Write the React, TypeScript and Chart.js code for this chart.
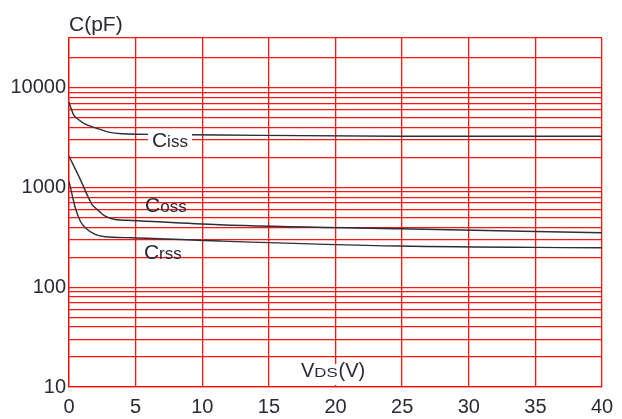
import React, { useEffect, useRef } from 'react';
import { Chart, registerables } from 'chart.js';

Chart.register(...registerables);

// ---- data ----
const vdsTicks = [0, 5, 10, 15, 20, 25, 30, 35, 40];
const capLabelValues = [10, 100, 1000, 10000];
const capGridValues = [
  10, 20, 30, 40, 50, 60, 70, 80, 90,
  100, 200, 300, 400, 500, 600, 700, 800, 900,
  1000, 2000, 3000, 4000, 5000, 6000, 7000, 8000, 9000,
  10000, 20000, 31623,
];

const cissV = [0, 0.1, 0.35, 0.73, 1.22, 1.97, 2.98, 3.98, 7, 11.3, 24.8, 40];
const cissC = [7200, 6550, 5370, 4790, 4330, 3980, 3600, 3470, 3410, 3365, 3270, 3270];

const cossV = [0, 0.82, 1.73, 1.97, 2.33, 2.72, 3.47, 4.73, 11.3, 24.8, 40];
const cossC = [2060, 1230, 676, 627, 567, 517, 479, 468, 424, 386, 352];

const crssV = [0, 0.23, 0.47, 0.85, 1.22, 1.97, 2.72, 4.73, 11.3, 24.8, 40];
const crssC = [1150, 851, 627, 460, 395, 339, 321, 314, 291, 259, 249];

const curveNames = ['Ciss', 'Coss', 'Crss'];
// label anchors (V, pF) — left edge / baseline of each label
const labelAnchorV = [6.3, 5.78, 5.7];
const labelAnchorC = [2553, 569, 192];
const axisTitleV = 17.48;
const axisTitleC = 12.6;

const FONT = '"Liberation Sans", Arial, sans-serif';
const TEXT = '#2a2a35';
const GRID = 'rgba(255,0,0,0.92)';
const CURVE = '#2b2e36';

const toPts = (xs: number[], ys: number[]) => xs.map((x, i) => ({ x, y: ys[i] }));

const annotPlugin = {
  id: 'annot',
  afterDatasetsDraw(chart: any) {
    const { ctx, scales, chartArea } = chart;
    const xs = scales.x;
    const ys = scales.y;
    ctx.save();
    ctx.fillStyle = TEXT;
    ctx.textBaseline = 'alphabetic';
    ctx.textAlign = 'left';

    // Y axis title
    ctx.font = `21px ${FONT}`;
    ctx.fillText('C(pF)', chartArea.left, chartArea.top - 7);

    // curve labels
    curveNames.forEach((name, i) => {
      const L = xs.getPixelForValue(labelAnchorV[i]);
      const B = ys.getPixelForValue(labelAnchorC[i]);
      if (i === 0) {
        ctx.fillStyle = '#ffffff';
        ctx.fillRect(L - 5, B - 16, 44, 18);
      }
      ctx.fillStyle = TEXT;
      ctx.font = `21px ${FONT}`;
      ctx.fillText(name[0], L - 1, B);
      const w = ctx.measureText(name[0]).width;
      ctx.font = `17px ${FONT}`;
      ctx.fillText(name.slice(1), L - 1 + w, B);
    });

    // X axis title inside plot
    const L = xs.getPixelForValue(axisTitleV);
    const B = ys.getPixelForValue(axisTitleC);
    ctx.fillStyle = '#ffffff';
    ctx.fillRect(L - 2, B - 13, 66, 21);
    ctx.fillStyle = TEXT;
    ctx.font = `20px ${FONT}`;
    ctx.fillText('V', L - 1, B);
    let cx = L - 1 + ctx.measureText('V').width;
    ctx.save();
    ctx.translate(cx, B);
    ctx.scale(1.4, 1);
    ctx.font = `12px ${FONT}`;
    ctx.fillText('DS', 0, 0);
    const dsw = ctx.measureText('DS').width * 1.4;
    ctx.restore();
    cx += dsw + 1;
    ctx.font = `20px ${FONT}`;
    ctx.fillText('(V)', cx, B);

    ctx.restore();
  },
};

export default function App() {
  const ref = useRef<HTMLCanvasElement>(null);

  useEffect(() => {
    if (!ref.current) return;
    const lineDs = (label: string, xs: number[], ys: number[]) => ({
      label,
      data: toPts(xs, ys),
      borderColor: CURVE,
      borderWidth: 1.4,
      pointRadius: 0,
      fill: false,
      cubicInterpolationMode: 'monotone' as const,
    });
    const chart = new Chart(ref.current, {
      type: 'line',
      data: {
        datasets: [
          lineDs('Ciss', cissV, cissC),
          lineDs('Coss', cossV, cossC),
          lineDs('Crss', crssV, crssC),
        ],
      },
      options: {
        animation: false,
        responsive: false,
        devicePixelRatio: 1,
        layout: { padding: { top: 38, right: 20, left: 0, bottom: 0 } },
        plugins: { legend: { display: false }, tooltip: { enabled: false } },
        scales: {
          x: {
            type: 'linear',
            min: 0,
            max: 40,
            afterBuildTicks: (s: any) => {
              s.ticks = vdsTicks.map((v) => ({ value: v }));
            },
            afterFit: (s: any) => {
              s.height = 32;
            },
            ticks: {
              autoSkip: false,
              maxRotation: 0,
              padding: 8,
              color: TEXT,
              font: { family: FONT, size: 20 },
            },
            grid: { color: GRID, lineWidth: 1.3, drawTicks: false },
            border: { color: GRID, width: 1.3 },
          },
          y: {
            type: 'logarithmic',
            min: 10,
            max: 31623,
            afterBuildTicks: (s: any) => {
              s.ticks = capGridValues.map((v) => ({ value: v }));
            },
            afterFit: (s: any) => {
              s.width = 69;
            },
            ticks: {
              autoSkip: false,
              padding: 3,
              color: TEXT,
              font: { family: FONT, size: 20 },
              callback: (v: any) => (capLabelValues.includes(Number(v)) ? String(v) : ''),
            },
            grid: { color: GRID, lineWidth: 1.3, drawTicks: false },
            border: { color: GRID, width: 1.3 },
          },
        },
      },
      plugins: [annotPlugin],
    });
    return () => chart.destroy();
  }, []);

  return (
    <div style={{ position: 'fixed', left: 0, top: 0, width: 622, height: 419, background: '#fff' }}>
      <canvas ref={ref} width={622} height={419} style={{ display: 'block' }} />
    </div>
  );
}
